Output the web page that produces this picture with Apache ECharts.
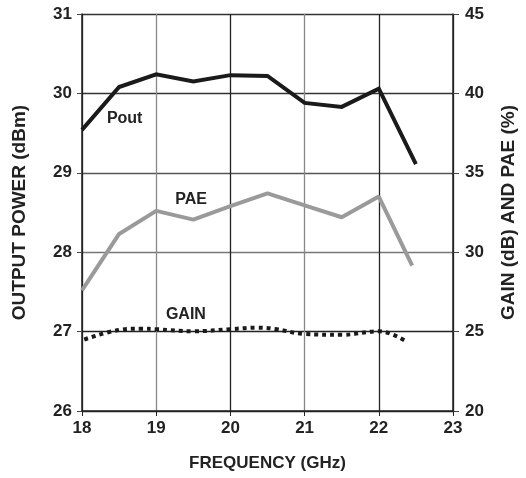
<!DOCTYPE html>
<html><head><meta charset="utf-8">
<script src="https://cdn.jsdelivr.net/npm/echarts@6/dist/echarts.min.js"></script>
<style>html,body{margin:0;padding:0;background:#fff}#c{width:526px;height:478px}</style>
</head><body><div id="c"></div>
<script>
const poutFreq = [18, 18.5, 19, 19.5, 20, 20.5, 21, 21.5, 22, 22.5];
const pout = [29.54, 30.08, 30.24, 30.15, 30.23, 30.22, 29.88, 29.83, 30.06, 29.11];
const paeFreq = [18, 18.5, 19, 19.5, 20, 20.5, 21, 21.5, 22, 22.45];
const pae = [27.6, 31.15, 32.6, 32.05, 32.9, 33.7, 32.95, 32.2, 33.5, 29.15];
const gainFreq = [18.03, 18.5, 18.8, 19, 19.5, 20, 20.35, 20.6, 21, 21.5, 22, 22.37];
const gain = [24.5, 25.1, 25.18, 25.15, 25.02, 25.15, 25.25, 25.17, 24.85, 24.8, 25.02, 24.38];
const seriesLabels = ['Pout', 'PAE', 'GAIN'];
// [freq, value, yAxisIndex]
const labelAnchors = [[18.575, 29.68, 0], [19.47, 33.3, 1], [19.4, 26.1, 1]];

const zip = (xs, ys) => xs.map((x, i) => [x, ys[i]]);
const font = '"Liberation Sans", Arial, sans-serif';
const chart = echarts.init(document.getElementById('c'));
const tickLbl = {color: '#222', fontSize: 17, fontWeight: 'bold', fontFamily: font};
chart.setOption({
  animation: false,
  grid: {left: 82, right: 70, top: 14, bottom: 67},
  xAxis: {
    type: 'value', min: 18, max: 23, interval: 1,
    name: 'FREQUENCY (GHz)', nameLocation: 'middle', nameGap: 44,
    nameTextStyle: {color: '#222', fontSize: 17, fontWeight: 'bold', fontFamily: font},
    axisLine: {lineStyle: {color: '#222', width: 1.5}},
    axisTick: {show: true, length: 5, lineStyle: {color: '#222'}},
    axisLabel: Object.assign({margin: 9}, tickLbl),
    splitLine: {show: true, lineStyle: {color: ['#222', '#888', '#222', '#888', '#222', '#222'], width: 1.3}}
  },
  yAxis: [{
    type: 'value', min: 26, max: 31, interval: 1, position: 'left',
    name: 'OUTPUT POWER (dBm)', nameLocation: 'middle', nameGap: 53,
    nameTextStyle: {color: '#222', fontSize: 19, fontWeight: 'bold', fontFamily: font},
    axisLine: {show: true, lineStyle: {color: '#222', width: 1.5}},
    axisTick: {show: true, length: 5, lineStyle: {color: '#444'}},
    axisLabel: Object.assign({margin: 10}, tickLbl),
    splitLine: {show: true, lineStyle: {color: ['#222', '#222', '#777', '#555', '#333', '#333'], width: 1.3}}
  }, {
    type: 'value', min: 20, max: 45, interval: 5, position: 'right',
    name: 'GAIN (dB) AND PAE (%)', nameLocation: 'middle', nameGap: 46, nameRotate: 90,
    nameTextStyle: {color: '#222', fontSize: 19, fontWeight: 'bold', fontFamily: font},
    axisLine: {show: true, lineStyle: {color: '#222', width: 1.5}},
    axisTick: {show: true, length: 6, lineStyle: {color: '#444'}},
    axisLabel: Object.assign({margin: 12}, tickLbl),
    splitLine: {show: false}
  }],
  series: [
    {type: 'line', name: 'Pout', yAxisIndex: 0, data: zip(poutFreq, pout), symbol: 'none',
     lineStyle: {color: '#1a1a1a', width: 4, join: 'miter'}},
    {type: 'line', name: 'PAE', yAxisIndex: 1, data: zip(paeFreq, pae), symbol: 'none',
     lineStyle: {color: '#9a9a9a', width: 4}},
    {type: 'line', name: 'GAIN', yAxisIndex: 1, data: zip(gainFreq, gain), symbol: 'none', smooth: 0.4,
     lineStyle: {color: '#1a1a1a', width: 4, type: [4, 4], cap: 'butt'}}
  ]
});
const g = labelAnchors.map((a, i) => {
  const p = chart.convertToPixel({gridIndex: 0, xAxisIndex: 0, yAxisIndex: a[2]}, [a[0], a[1]]);
  return {type: 'text', x: p[0], y: p[1], style: {text: seriesLabels[i], fill: '#222',
    font: 'bold 16px ' + font, textAlign: 'center', textVerticalAlign: 'middle'}};
});
chart.setOption({graphic: g});
</script></body></html>
